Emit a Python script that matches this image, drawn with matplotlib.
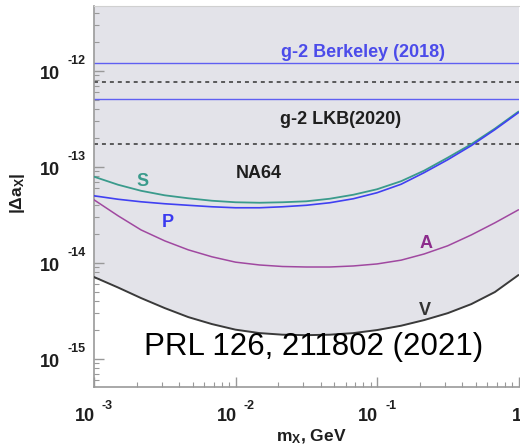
import numpy as np
import matplotlib
matplotlib.use("Agg")
import matplotlib.pyplot as plt

plt.rcParams['font.family'] = ['Liberation Sans', 'DejaVu Sans']
plt.rcParams['mathtext.fontset'] = 'custom'
plt.rcParams['mathtext.rm'] = 'Liberation Sans'
plt.rcParams['mathtext.bf'] = 'Liberation Sans:bold'
plt.rcParams['mathtext.it'] = 'Liberation Sans:italic'

# mass grid, GeV
m_x = [0.001, 0.00148, 0.00215, 0.00316, 0.00464, 0.00681, 0.01, 0.0148,
       0.0215, 0.0316, 0.0464, 0.0681, 0.1, 0.148, 0.215, 0.316, 0.464,
       0.681, 1.0]

# NA64 limits on |Delta a_X| for each coupling type
lim_S = [7.92e-14, 6.53e-14, 5.65e-14, 5.07e-14, 4.72e-14, 4.45e-14, 4.29e-14,
         4.24e-14, 4.29e-14, 4.39e-14, 4.67e-14, 5.14e-14, 5.86e-14, 7.11e-14,
         9.15e-14, 1.25e-13, 1.73e-13, 2.51e-13, 3.78e-13]
lim_P = [5.01e-14, 4.61e-14, 4.34e-14, 4.14e-14, 3.99e-14, 3.85e-14, 3.76e-14,
         3.76e-14, 3.85e-14, 3.99e-14, 4.24e-14, 4.67e-14, 5.39e-14, 6.61e-14,
         8.72e-14, 1.19e-13, 1.67e-13, 2.45e-13, 3.69e-13]
lim_A = [4.55e-14, 3.10e-14, 2.21e-14, 1.70e-14, 1.37e-14, 1.16e-14, 1.02e-14,
         9.53e-15, 9.19e-15, 9.08e-15, 9.08e-15, 9.31e-15, 9.77e-15, 1.07e-14,
         1.24e-14, 1.51e-14, 1.96e-14, 2.62e-14, 3.58e-14]
lim_V = [7.14e-15, 5.55e-15, 4.31e-15, 3.39e-15, 2.73e-15, 2.31e-15, 2.02e-15,
         1.86e-15, 1.79e-15, 1.77e-15, 1.79e-15, 1.86e-15, 2.00e-15, 2.22e-15,
         2.54e-15, 3.00e-15, 3.73e-15, 4.98e-15, 7.49e-15]

# g-2 measurements: solid = central value, dotted = band edge
g2_berkeley = 1.20e-12
g2_berkeley_band = 7.60e-13
g2_lkb = 5.05e-13
g2_lkb_band = 1.75e-13

x_range = (1e-3, 1.0)
y_range = (10**-15.292, 10**-11.323)
x_major = [1e-3, 1e-2, 1e-1, 1.0]
x_labels = [('10', '-3'), ('10', '-2'), ('10', '-1'), ('1', '')]
y_major = [1e-15, 1e-14, 1e-13, 1e-12]
y_labels = [('10', '-15'), ('10', '-14'), ('10', '-13'), ('10', '-12')]

fig = plt.figure(figsize=(5.2, 4.48), dpi=100)
ax = fig.add_axes([94/520, 61/448, 424.5/520, 381/448])
ax.set_xscale('log')
ax.set_yscale('log')
ax.set_xlim(*x_range)
ax.set_ylim(*y_range)

# excluded region above the V curve
ax.fill_between(m_x, lim_V, y_range[1], color='#e3e3e9', lw=0, zorder=0)

ax.axhline(g2_berkeley, color='#5f5ff2', lw=1.0, zorder=2)
ax.axhline(g2_lkb, color='#5f5ff2', lw=1.0, zorder=2)
ax.axhline(g2_berkeley_band, color='#333333', lw=1.1, ls=(0, (2.6, 2.6)), zorder=2)
ax.axhline(g2_lkb_band, color='#333333', lw=1.1, ls=(0, (2.6, 2.6)), zorder=2)

curve = dict(zorder=3, solid_joinstyle='round', solid_capstyle='round')
ax.plot(m_x, lim_V, color='#3a3a3a', lw=1.4, **curve)
ax.plot(m_x, lim_A, color='#a048a0', lw=1.1, **curve)
ax.plot(m_x, lim_S, color='#3a9b8c', lw=1.3, **curve)
ax.plot(m_x, lim_P, color='#4040f2', lw=1.2, **curve)

bold = dict(fontweight='bold', fontsize=13, ha='center', va='baseline', zorder=4)
ax.text(2.20e-3, 6.27e-14, 'S', color='#3a9b8c', **bold)
ax.text(3.30e-3, 2.39e-14, 'P', color='#3a3af0', **bold)
ax.text(0.221, 1.43e-14, 'A', color='#8c2c8c', **bold)
ax.text(0.219, 2.87e-15, 'V', color='#333333', **bold)
ax.text(0.01456, 7.67e-14, 'NA64', color='#1e1e1e', **bold)
ax.text(0.0796, 1.41e-12, 'g-2 Berkeley (2018)', color='#4b4bea', **bold)
ax.text(0.0552, 2.83e-13, 'g-2 LKB(2020)', color='#1e1e1e', **bold)
ax.text(0.0359, 1.09e-15, 'PRL 126, 211802 (2021)', color='black',
        fontsize=22.5, ha='center', va='baseline', zorder=4)

# frame and ticks
for side in ['left', 'bottom']:
    ax.spines[side].set_color('#999999')
    ax.spines[side].set_linewidth(1.2)
ax.spines['top'].set_color('#d0d0d0')
ax.spines['right'].set_visible(False)
ax.tick_params(which='both', direction='in', colors='#999999', top=False,
               right=False, labelbottom=False, labelleft=False)
ax.tick_params(which='major', length=7, width=1.0)
ax.tick_params(which='minor', length=3.5, width=0.8)
ax.set_xticks(x_major)
ax.set_yticks(y_major)

# "10" with a raised exponent, ROOT style
for v, (base, ex) in zip(x_major, x_labels):
    if ex:
        ax.annotate(base, xy=(v, 0), xycoords=ax.get_xaxis_transform(),
                    xytext=(1, -34), textcoords='offset pixels', ha='right',
                    va='baseline', fontsize=13, fontweight='bold', color='#1e1e1e',
                    annotation_clip=False)
        ax.annotate(ex, xy=(v, 0), xycoords=ax.get_xaxis_transform(),
                    xytext=(8, -22), textcoords='offset pixels', ha='left',
                    va='baseline', fontsize=9, fontweight='bold', color='#1e1e1e',
                    annotation_clip=False)
    else:
        ax.annotate(base, xy=(v, 0), xycoords=ax.get_xaxis_transform(),
                    xytext=(-2, -34), textcoords='offset pixels', ha='center',
                    va='baseline', fontsize=13, fontweight='bold', color='#1e1e1e',
                    annotation_clip=False)

for v, (base, ex) in zip(y_major, y_labels):
    ax.annotate(base, xy=(0, v), xycoords=ax.get_yaxis_transform(),
                xytext=(-34, -8.5), textcoords='offset pixels', ha='right',
                va='baseline', fontsize=13, fontweight='bold', color='#1e1e1e',
                annotation_clip=False)
    ax.annotate(ex, xy=(0, v), xycoords=ax.get_yaxis_transform(),
                xytext=(-27, 7), textcoords='offset pixels', ha='left',
                va='baseline', fontsize=9, fontweight='bold', color='#1e1e1e',
                annotation_clip=False)

fig.text(311/520, (448 - 441.7)/448, r'm$_{\mathbf{X}}$, GeV', ha='center',
         va='baseline', fontsize=12.5, fontweight='bold', color='#1e1e1e')
fig.text(21.7/520, 1 - 193.4/448, r'|Δa$_{\mathbf{X}}$|', rotation=90,
         rotation_mode='anchor', ha='center', va='baseline', fontsize=12.5,
         fontweight='bold', color='#1e1e1e')

fig.savefig('out.png', dpi=100)
